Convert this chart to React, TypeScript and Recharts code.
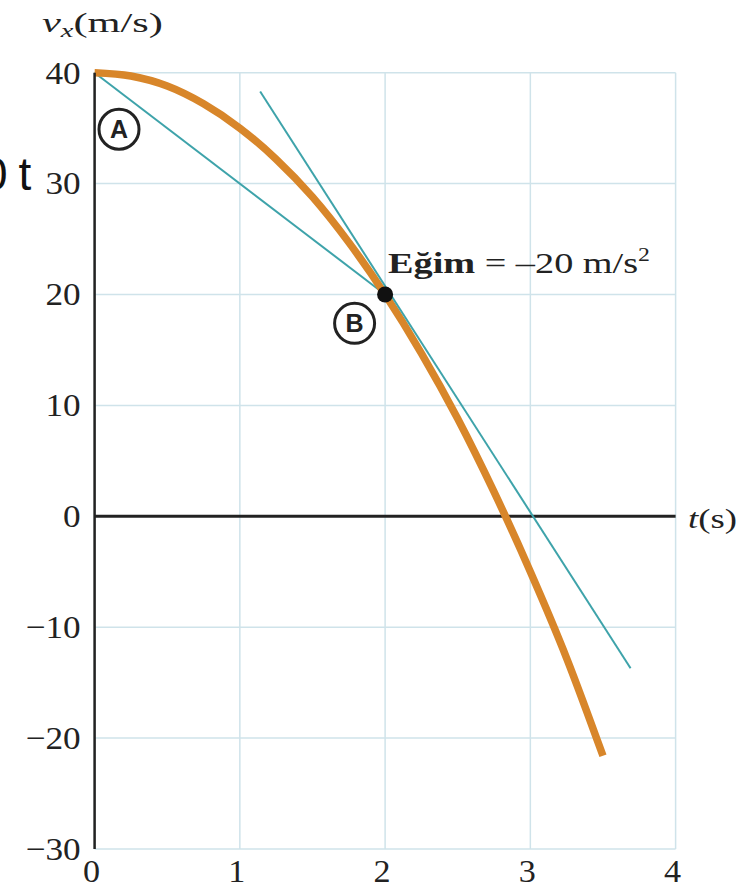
import { CartesianGrid, Line, LineChart, ReferenceDot, ReferenceLine, XAxis, YAxis } from "recharts"

// v(t)
const curveT = [0, 0.25, 0.5, 0.75, 1, 1.25, 1.5, 1.75, 2, 2.25, 2.5, 2.75, 3, 3.25, 3.5]
const curveV = [40, 39.7, 38.8, 37.2, 35, 32.2, 28.8, 24.7, 20, 14.7, 8.8, 2.2, -5, -12.8, -21.6]

// secant A -> B
const secantT = [0, 2]
const secantV = [40, 20]

// tangent at B
const tangentT = [1.14, 3.69]
const tangentV = [38.3, -13.7]

const xTicks = [0, 1, 2, 3, 4]
const yTicks = [-30, -20, -10, 0, 10, 20, 30, 40]

const curve = curveT.map((t, i) => ({ t, v: curveV[i] }))
const secant = secantT.map((t, i) => ({ t, v: secantV[i] }))
const tangent = tangentT.map((t, i) => ({ t, v: tangentV[i] }))

const SERIF = "'Liberation Serif', 'DejaVu Serif', serif"
const SANS = "'Liberation Sans', Arial, sans-serif"
const ORANGE = "#d8862a"
const TEAL = "#3ea3aa"
const GRID = "#cfe3ea"
const INK = "#222"

const fmt = (v: number) => (v < 0 ? "\u2212" + Math.abs(v) : String(v))

const YTick = (props: any) => {
  const { x, y, payload } = props
  return (
    <text
      transform={`translate(${x - 6},${y}) scale(1.1,1)`}
      textAnchor="end"
      dy="0.34em"
      fontFamily={SERIF}
      fontSize={32}
      fill={INK}
    >
      {fmt(payload.value)}
    </text>
  )
}

const XTick = (props: any) => {
  const { x, y, payload } = props
  return (
    <text
      transform={`translate(${x - 3},${y + 25}) scale(1.1,1)`}
      textAnchor="middle"
      fontFamily={SERIF}
      fontSize={31}
      fill={INK}
    >
      {fmt(payload.value)}
    </text>
  )
}

const Circled = ({ cx, cy, letter }: any) => (
  <g>
    <circle cx={cx} cy={cy} r={20} fill="#fff" stroke={INK} strokeWidth={3} />
    <text
      x={cx}
      y={cy}
      dy="0.36em"
      textAnchor="middle"
      fontFamily={SANS}
      fontWeight="bold"
      fontSize={25}
      fill={INK}
    >
      {letter}
    </text>
  </g>
)

export default function App() {
  return (
    <div style={{ position: "absolute", left: 0, top: 0, width: 742, height: 889, background: "#fff" }}>
      <LineChart width={742} height={889} margin={{ top: 72.7, right: 66.4, left: 0, bottom: 0 }}>
        <CartesianGrid stroke={GRID} strokeWidth={1.5} horizontalValues={yTicks} verticalValues={xTicks} />
        <XAxis
          type="number"
          dataKey="t"
          domain={[0, 4]}
          ticks={xTicks}
          height={40}
          axisLine={false}
          tickLine={false}
          tick={<XTick />}
        />
        <YAxis
          type="number"
          dataKey="v"
          domain={[-30, 40]}
          ticks={yTicks}
          width={94.6}
          axisLine={{ stroke: INK, strokeWidth: 2.5 }}
          tickLine={false}
          tick={<YTick />}
        />
        <ReferenceLine y={0} stroke={INK} strokeWidth={3} />
        <Line data={secant} dataKey="v" stroke={TEAL} strokeWidth={2} dot={false} isAnimationActive={false} />
        <Line
          data={curve}
          dataKey="v"
          type="monotone"
          stroke={ORANGE}
          strokeWidth={7.5}
          dot={false}
          isAnimationActive={false}
        />
        <Line data={tangent} dataKey="v" stroke={TEAL} strokeWidth={2} dot={false} isAnimationActive={false} />
        <ReferenceDot x={2} y={20} r={8} fill="#111" stroke="none" />
        <ReferenceDot x={0.168} y={34.9} shape={(p: any) => <Circled cx={p.cx} cy={p.cy} letter="A" />} />
        <ReferenceDot x={1.79} y={17.4} shape={(p: any) => <Circled cx={p.cx} cy={p.cy} letter="B" />} />
      </LineChart>
      <svg
        width={742}
        height={889}
        style={{ position: "absolute", left: 0, top: 0, pointerEvents: "none" }}
      >
        <text x={42} y={32} fontFamily={SERIF} fontSize={27} fill={INK} textLength={121} lengthAdjust="spacingAndGlyphs">
          <tspan fontStyle="italic">v</tspan>
          <tspan fontStyle="italic" fontSize={18} dy={5}>x</tspan>
          <tspan dy={-5}>(m/s)</tspan>
        </text>
        <text x={688} y={528} fontFamily={SERIF} fontSize={27} fill={INK} textLength={49} lengthAdjust="spacingAndGlyphs">
          <tspan fontStyle="italic">t</tspan>(s)
        </text>
        <text x={388} y={273} fontFamily={SERIF} fontSize={29} fill={INK} textLength={262} lengthAdjust="spacingAndGlyphs">
          <tspan fontWeight="bold">Eğim</tspan> = –20 m/s
          <tspan fontSize={18} dy={-12}>2</tspan>
        </text>
        <text x={-18} y={190} fontFamily={SANS} fontSize={46} fill="#111">
          0<tspan dx={11}>t</tspan>
        </text>
      </svg>
    </div>
  )
}
